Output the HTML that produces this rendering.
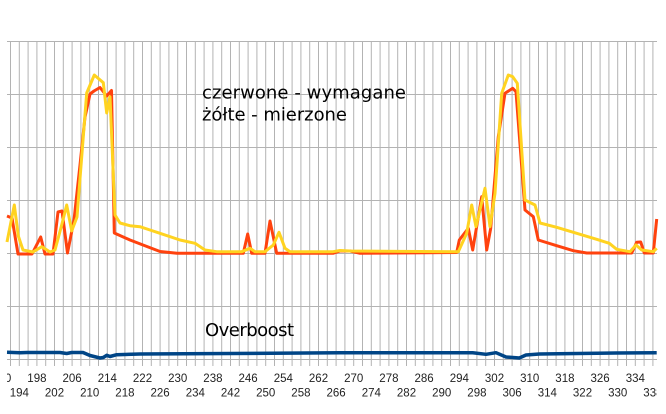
<!DOCTYPE html>
<html><head><meta charset="utf-8"><style>
html,body{margin:0;padding:0;background:#fff;}
svg{display:block;}
</style></head><body>
<svg width="666" height="414" viewBox="0 0 666 414" xmlns="http://www.w3.org/2000/svg">
<defs>
<clipPath id="lc"><rect x="7" y="360" width="650" height="54"/></clipPath>
</defs>
<rect width="666" height="414" fill="#fff"/>
<g stroke="#b3b3b3" stroke-width="1" shape-rendering="crispEdges">
<line x1="7" y1="41.5" x2="657" y2="41.5"/>
<line x1="7" y1="94.5" x2="657" y2="94.5"/>
<line x1="7" y1="147.5" x2="657" y2="147.5"/>
<line x1="7" y1="200.5" x2="657" y2="200.5"/>
<line x1="7" y1="253.5" x2="657" y2="253.5"/>
<line x1="7" y1="306.5" x2="657" y2="306.5"/>
<line x1="7" y1="359.5" x2="657" y2="359.5"/>
</g>
<g stroke="#b3b3b3" stroke-width="1">
<path d="M10.5 41.5V366M19.3 41.5V366M28.1 41.5V366M36.9 41.5V366M45.7 41.5V366M54.5 41.5V366M63.3 41.5V366M72.1 41.5V366M80.9 41.5V366M89.7 41.5V366M98.5 41.5V366M107.3 41.5V366M116.1 41.5V366M124.9 41.5V366M133.7 41.5V366M142.5 41.5V366M151.3 41.5V366M160.1 41.5V366M168.9 41.5V366M177.7 41.5V366M186.5 41.5V366M195.3 41.5V366M204.1 41.5V366M212.9 41.5V366M221.7 41.5V366M230.5 41.5V366M239.3 41.5V366M248.1 41.5V366M256.9 41.5V366M265.7 41.5V366M274.5 41.5V366M283.3 41.5V366M292.1 41.5V366M300.9 41.5V366M309.7 41.5V366M318.5 41.5V366M327.3 41.5V366M336.1 41.5V366M344.9 41.5V366M353.7 41.5V366M362.5 41.5V366M371.3 41.5V366M380.1 41.5V366M388.9 41.5V366M397.7 41.5V366M406.5 41.5V366M415.3 41.5V366M424.1 41.5V366M432.9 41.5V366M441.7 41.5V366M450.5 41.5V366M459.3 41.5V366M468.1 41.5V366M476.9 41.5V366M485.7 41.5V366M494.5 41.5V366M503.3 41.5V366M512.1 41.5V366M520.9 41.5V366M529.7 41.5V366M538.5 41.5V366M547.3 41.5V366M556.1 41.5V366M564.9 41.5V366M573.7 41.5V366M582.5 41.5V366M591.3 41.5V366M600.1 41.5V366M608.9 41.5V366M617.7 41.5V366M626.5 41.5V366M635.3 41.5V366M644.1 41.5V366M652.9 41.5V366" fill="none"/>
</g>

<!-- red series -->
<polyline fill="none" stroke="#ff420e" stroke-width="3" stroke-linejoin="round" points="7,216 12,218 18,254 32,254 40.7,237 45,254 53,254 58,212 62,211 67.5,253 74,220 80,165 85,117 90,94 94,91 100,87.5 106.7,96 111.5,90.5 114.3,233 130,240 143,245 160,251.5 177,253.3 243.3,253.3 247.7,234 251.7,253.3 265,253.3 270,221 276.7,253.3 333,253.3 340,251 350,251 360,253.3 456.7,252.5 459.3,240 468.3,228.3 472.7,250 481.7,196.7 486.7,250 490.7,228.3 498.3,136.7 505,93.3 512.7,88.3 516,91.7 525,210 533.3,216.7 538.3,240 556.7,245.7 573.3,250.7 586.7,253 631.7,253 636.7,242.3 640.7,242 644.3,253 653.3,253 656.7,219"/>

<!-- yellow series -->
<polyline fill="none" stroke="#ffd320" stroke-width="3" stroke-linejoin="round" points="7,242 14.3,205 18.3,236 23,250 33,252 41.7,246.7 50,252 55,250 61.7,225 66.7,205 71.7,231 77,217 86.7,93 94.3,75 103.3,82.7 106.7,113 110,96.7 115,215 120,223 130,225.7 140,226.7 150,230 160,233.3 180,240 195,243.3 205,250 216.7,251.7 241.7,251.7 250,248.3 255,251.7 265,251.7 273.3,245 279,232.3 285,248.3 290,251.7 333,251.7 340,250.5 350,251 458.3,251.7 466.7,233.3 471.7,205 476,226.7 485,188.3 490,226.7 495,193.3 501.7,93.3 508.3,75 512.7,76.7 517.3,83.3 525,200 535,205 540,223 556.7,227.3 576.7,233.3 596.7,239.3 609.3,243.3 616.7,249.3 630,251.7 636,245 641.7,250 653.3,251.7 656.7,248.3"/>

<!-- blue series -->
<polyline fill="none" stroke="#004586" stroke-width="3.5" stroke-linejoin="round" points="7,352.3 20,352.8 27,352.5 60,352.5 66.7,353.5 71.7,352.5 83,352.5 90,355.5 100,358 103.3,357.5 106.7,355.3 110,356.5 116.7,354.7 140,354 230,353.5 340,352.7 472.7,352.7 486,354.3 496,352.7 506,357 519.3,358 526,355 539.3,354 616,353 656.7,352.7"/>

<g font-family="DejaVu Sans, sans-serif" font-size="18" fill="#000">
<text x="202" y="98.5" textLength="204" lengthAdjust="spacing">czerwone - wymagane</text>
<text x="202" y="120.5" textLength="145" lengthAdjust="spacing">żółte - mierzone</text>
<text x="205" y="336" textLength="89" lengthAdjust="spacing">Overboost</text>
</g>

<g font-family="Liberation Sans, sans-serif" font-size="11.5" fill="#222" text-anchor="middle" clip-path="url(#lc)">
<text x="1.7" y="382">190</text>
<text x="36.9" y="382">198</text>
<text x="72.1" y="382">206</text>
<text x="107.3" y="382">214</text>
<text x="142.5" y="382">222</text>
<text x="177.7" y="382">230</text>
<text x="212.9" y="382">238</text>
<text x="248.1" y="382">246</text>
<text x="283.3" y="382">254</text>
<text x="318.5" y="382">262</text>
<text x="353.7" y="382">270</text>
<text x="388.9" y="382">278</text>
<text x="424.1" y="382">286</text>
<text x="459.3" y="382">294</text>
<text x="494.5" y="382">302</text>
<text x="529.7" y="382">310</text>
<text x="564.9" y="382">318</text>
<text x="600.1" y="382">326</text>
<text x="635.3" y="382">334</text>
<text x="19.3" y="396.5">194</text>
<text x="54.5" y="396.5">202</text>
<text x="89.7" y="396.5">210</text>
<text x="124.9" y="396.5">218</text>
<text x="160.1" y="396.5">226</text>
<text x="195.3" y="396.5">234</text>
<text x="230.5" y="396.5">242</text>
<text x="265.7" y="396.5">250</text>
<text x="300.9" y="396.5">258</text>
<text x="336.1" y="396.5">266</text>
<text x="371.3" y="396.5">274</text>
<text x="406.5" y="396.5">282</text>
<text x="441.7" y="396.5">290</text>
<text x="476.9" y="396.5">298</text>
<text x="512.1" y="396.5">306</text>
<text x="547.3" y="396.5">314</text>
<text x="582.5" y="396.5">322</text>
<text x="617.7" y="396.5">330</text>
<text x="652.9" y="396.5">338</text>
</g>
</svg>
</body></html>
